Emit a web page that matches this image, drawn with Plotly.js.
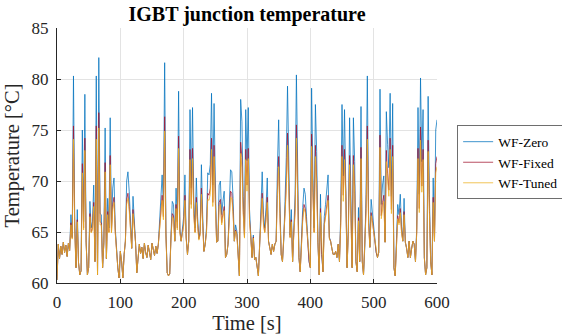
<!DOCTYPE html>
<html>
<head>
<meta charset="utf-8">
<script src="https://cdn.plot.ly/plotly-3.0.1.min.js"></script>
<style>html,body{margin:0;padding:0;background:#fff;}#chart{width:562px;height:336px;}</style>
</head>
<body>
<div id="chart"></div>
<script>
// Sampling of the time axis (s)
const timeStart = 0;
const timeStep = 2;

const seriesNames = ["WF-Zero", "WF-Fixed", "WF-Tuned"];

const zero = [
60.3, 63.8, 62.4, 63.6, 62.8, 64.0, 63.0, 63.7, 62.6, 63.9,
63.2, 66.7, 64.5, 80.3, 66.0, 61.5, 67.2, 62.0, 60.8, 61.2,
75.0, 66.0, 78.5, 64.0, 60.8, 61.5, 68.0, 65.4, 66.0, 69.6,
62.1, 80.3, 60.8, 82.1, 66.8, 66.7, 61.5, 64.0, 75.2, 62.4,
68.3, 65.4, 76.2, 65.4, 69.3, 70.3, 65.4, 62.8, 61.5, 60.5,
63.1, 62.1, 60.5, 62.8, 64.1, 70.0, 70.9, 69.0, 65.4, 63.4,
68.5, 66.5, 64.0, 61.0, 62.6, 63.8, 62.9, 63.5, 62.4, 63.9,
63.0, 62.5, 63.7, 63.1, 62.3, 63.9, 63.2, 62.7, 63.6, 62.9,
63.8, 66.0, 68.5, 70.6, 67.5, 81.6, 65.0, 61.0, 60.7, 60.9,
64.7, 68.0, 67.7, 64.1, 69.3, 66.0, 78.8, 65.4, 64.1, 65.1,
66.5, 70.6, 64.5, 62.8, 64.1, 77.0, 69.3, 77.2, 68.0, 65.4,
70.3, 66.5, 64.4, 65.1, 71.6, 66.7, 63.1, 63.8, 65.4, 70.8,
70.6, 71.6, 78.6, 69.6, 77.6, 70.0, 64.0, 64.1, 69.6, 70.0,
66.7, 68.0, 69.0, 62.5, 62.8, 63.8, 68.5, 71.1, 70.9, 68.3,
64.1, 65.7, 65.1, 62.1, 60.7, 78.0, 75.8, 68.5, 64.7, 77.0,
72.0, 77.2, 67.2, 64.7, 62.5, 64.7, 62.3, 62.5, 61.5, 60.7,
63.8, 67.0, 70.9, 66.7, 65.4, 67.4, 70.3, 64.1, 63.4, 62.8,
63.8, 63.1, 63.8, 64.1, 71.3, 76.0, 68.0, 62.8, 62.1, 64.1,
68.0, 72.3, 79.3, 71.9, 64.7, 67.2, 62.1, 65.4, 68.7, 80.4,
68.0, 62.5, 61.1, 64.7, 67.4, 69.3, 68.7, 66.5, 64.1, 62.1,
61.5, 79.1, 71.0, 65.4, 77.5, 72.9, 64.0, 60.8, 68.7, 62.8,
61.1, 66.5, 67.7, 69.0, 70.6, 64.5, 64.1, 63.4, 62.8, 62.8,
63.1, 62.5, 63.8, 62.1, 66.7, 77.5, 70.5, 77.0, 70.9, 61.5,
65.4, 76.2, 68.7, 61.5, 76.2, 71.9, 62.1, 61.1, 67.4, 62.1,
77.3, 62.1, 60.8, 63.5, 68.7, 80.3, 66.7, 63.5, 68.2, 67.0,
65.4, 64.0, 63.0, 62.5, 63.0, 79.0, 67.7, 69.6, 70.5, 64.0,
76.8, 73.6, 71.3, 78.6, 68.5, 77.6, 61.5, 60.7, 63.5, 67.7,
66.7, 68.7, 65.5, 64.1, 68.3, 64.0, 63.4, 62.5, 64.1, 62.5,
63.4, 64.1, 63.8, 62.1, 65.4, 77.2, 68.7, 80.1, 71.9, 77.0,
62.5, 60.8, 61.5, 78.3, 68.7, 62.1, 60.8, 70.3, 64.1, 75.0,
76.0
];

const fixed = [
60.3, 63.8, 62.4, 63.6, 62.8, 64.0, 63.0, 63.7, 62.6, 63.9,
63.2, 65.9, 64.4, 75.4, 65.4, 61.5, 66.2, 62.0, 60.8, 61.2,
71.7, 65.4, 74.2, 64.0, 60.8, 61.5, 66.8, 65.0, 65.4, 67.9,
62.1, 75.4, 60.8, 76.7, 66.0, 65.9, 61.5, 64.0, 71.8, 62.4,
67.0, 65.0, 72.5, 65.0, 67.7, 68.4, 65.0, 62.8, 61.5, 60.5,
63.1, 62.1, 60.5, 62.8, 64.1, 68.2, 68.8, 67.5, 65.0, 63.4,
67.2, 65.8, 64.0, 61.0, 62.6, 63.8, 62.9, 63.5, 62.4, 63.9,
63.0, 62.5, 63.7, 63.1, 62.3, 63.9, 63.2, 62.7, 63.6, 62.9,
63.8, 65.4, 67.2, 68.6, 66.5, 76.3, 64.7, 61.0, 60.7, 60.9,
64.5, 66.8, 66.6, 64.1, 67.7, 65.4, 74.4, 65.0, 64.1, 64.8,
65.8, 68.6, 64.4, 62.8, 64.1, 73.1, 67.7, 73.2, 66.8, 65.0,
68.4, 65.8, 64.3, 64.8, 69.3, 65.9, 63.1, 63.8, 65.0, 68.8,
68.6, 69.3, 74.2, 67.9, 73.5, 68.2, 64.0, 64.1, 67.9, 68.2,
65.9, 66.8, 67.5, 62.5, 62.8, 63.8, 67.2, 69.0, 68.8, 67.0,
64.1, 65.2, 64.8, 62.1, 60.7, 73.8, 72.3, 67.2, 64.5, 73.1,
69.6, 73.2, 66.2, 64.5, 62.5, 64.5, 62.3, 62.5, 61.5, 60.7,
63.8, 66.1, 68.8, 65.9, 65.0, 66.4, 68.4, 64.1, 63.4, 62.8,
63.8, 63.1, 63.8, 64.1, 69.1, 72.4, 66.8, 62.8, 62.1, 64.1,
66.8, 69.8, 74.7, 69.5, 64.5, 66.2, 62.1, 65.0, 67.3, 75.5,
66.8, 62.5, 61.1, 64.5, 66.4, 67.7, 67.3, 65.8, 64.1, 62.1,
61.5, 74.6, 68.9, 65.0, 73.5, 70.2, 64.0, 60.8, 67.3, 62.8,
61.1, 65.8, 66.6, 67.5, 68.6, 64.4, 64.1, 63.4, 62.8, 62.8,
63.1, 62.5, 63.8, 62.1, 65.9, 73.5, 68.6, 73.1, 68.8, 61.5,
65.0, 72.5, 67.3, 61.5, 72.5, 69.5, 62.1, 61.1, 66.4, 62.1,
73.3, 62.1, 60.8, 63.5, 67.3, 75.4, 65.9, 63.5, 66.9, 66.1,
65.0, 64.0, 63.0, 62.5, 63.0, 74.5, 66.6, 67.9, 68.6, 64.0,
73.0, 70.7, 69.1, 74.2, 67.2, 73.5, 61.5, 60.7, 63.5, 66.6,
65.9, 67.3, 65.1, 64.1, 67.0, 64.0, 63.4, 62.5, 64.1, 62.5,
63.4, 64.1, 63.8, 62.1, 65.0, 73.2, 67.3, 75.3, 69.5, 73.1,
62.5, 60.8, 61.5, 74.0, 67.3, 62.1, 60.8, 68.4, 64.1, 71.7,
72.4
];

const tuned = [
60.3, 63.8, 62.4, 63.6, 62.8, 64.0, 63.0, 63.7, 62.6, 63.9,
63.2, 65.7, 64.3, 74.1, 65.2, 61.5, 66.0, 62.0, 60.8, 61.2,
70.8, 65.2, 73.0, 64.0, 60.8, 61.5, 66.5, 64.9, 65.2, 67.5,
62.1, 74.1, 60.8, 75.2, 65.7, 65.7, 61.5, 64.0, 70.9, 62.4,
66.7, 64.9, 71.6, 64.9, 67.3, 67.9, 64.9, 62.8, 61.5, 60.5,
63.1, 62.1, 60.5, 62.8, 64.1, 67.7, 68.3, 67.1, 64.9, 63.4,
66.8, 65.6, 64.0, 61.0, 62.6, 63.8, 62.9, 63.5, 62.4, 63.9,
63.0, 62.5, 63.7, 63.1, 62.3, 63.9, 63.2, 62.7, 63.6, 62.9,
63.8, 65.2, 66.8, 68.1, 66.2, 74.9, 64.6, 61.0, 60.7, 60.9,
64.4, 66.5, 66.3, 64.1, 67.3, 65.2, 73.2, 64.9, 64.1, 64.7,
65.6, 68.1, 64.3, 62.8, 64.1, 72.1, 67.3, 72.2, 66.5, 64.9,
67.9, 65.6, 64.2, 64.7, 68.7, 65.7, 63.1, 63.8, 64.9, 68.2,
68.1, 68.7, 73.1, 67.5, 72.4, 67.7, 64.0, 64.1, 67.5, 67.7,
65.7, 66.5, 67.1, 62.5, 62.8, 63.8, 66.8, 68.4, 68.3, 66.7,
64.1, 65.1, 64.7, 62.1, 60.7, 72.7, 71.3, 66.8, 64.4, 72.1,
69.0, 72.2, 66.0, 64.4, 62.5, 64.4, 62.3, 62.5, 61.5, 60.7,
63.8, 65.9, 68.3, 65.7, 64.9, 66.1, 67.9, 64.1, 63.4, 62.8,
63.8, 63.1, 63.8, 64.1, 68.5, 71.4, 66.5, 62.8, 62.1, 64.1,
66.5, 69.1, 73.5, 68.9, 64.4, 66.0, 62.1, 64.9, 66.9, 74.2,
66.5, 62.5, 61.1, 64.4, 66.1, 67.3, 66.9, 65.6, 64.1, 62.1,
61.5, 73.4, 68.3, 64.9, 72.4, 69.5, 64.0, 60.8, 66.9, 62.8,
61.1, 65.6, 66.3, 67.1, 68.1, 64.3, 64.1, 63.4, 62.8, 62.8,
63.1, 62.5, 63.8, 62.1, 65.7, 72.4, 68.0, 72.1, 68.3, 61.5,
64.9, 71.6, 66.9, 61.5, 71.6, 68.9, 62.1, 61.1, 66.1, 62.1,
72.2, 62.1, 60.8, 63.5, 66.9, 74.1, 65.7, 63.5, 66.6, 65.9,
64.9, 64.0, 63.0, 62.5, 63.0, 73.3, 66.3, 67.5, 68.0, 64.0,
71.9, 70.0, 68.5, 73.1, 66.8, 72.4, 61.5, 60.7, 63.5, 66.3,
65.7, 66.9, 64.9, 64.1, 66.7, 64.0, 63.4, 62.5, 64.1, 62.5,
63.4, 64.1, 63.8, 62.1, 64.9, 72.2, 66.9, 74.0, 68.9, 72.1,
62.5, 60.8, 61.5, 72.9, 66.9, 62.1, 60.8, 67.9, 64.1, 70.8,
71.4
];

const FONT = '"Liberation Serif", "Times New Roman", Times, serif';
const colors = ['#0072BD', '#A2142F', '#EDB120'];
const seriesData = [zero, fixed, tuned];

const traces = seriesData.map((y, i) => ({
  type: 'scatter',
  mode: 'lines',
  name: seriesNames[i],
  x0: timeStart,
  dx: timeStep,
  y: y,
  line: {color: colors[i], width: 0.75},
  hoverinfo: 'skip'
}));

const axisCommon = {
  showline: true,
  linecolor: '#262626',
  linewidth: 1,
  mirror: false,
  ticks: 'inside',
  ticklen: 4,
  tickwidth: 1,
  tickcolor: '#262626',
  showgrid: true,
  gridcolor: '#e3e3e3',
  gridwidth: 1,
  zeroline: false,
  automargin: false,
  tickfont: {family: FONT, size: 17, color: '#262626'}
};

const layout = {
  width: 562,
  height: 336,
  margin: {l: 57, r: 125, t: 28, b: 53, pad: 0, autoexpand: false},
  paper_bgcolor: '#ffffff',
  plot_bgcolor: '#ffffff',
  font: {family: FONT, color: '#262626'},
  title: {
    text: '<b>IGBT junction temperature</b>',
    font: {family: FONT, size: 20, color: '#000000'},
    x: 0.5, xref: 'paper', xanchor: 'center',
    y: 0.958, yref: 'container', yanchor: 'middle'
  },
  xaxis: Object.assign({}, axisCommon, {
    range: [0, 600],
    tick0: 0, dtick: 100,
    ticklabelstandoff: 4,
    title: {text: 'Time [s]', font: {family: FONT, size: 20.5, color: '#262626'}, standoff: 2}
  }),
  yaxis: Object.assign({}, axisCommon, {
    range: [60, 85],
    tick0: 60, dtick: 5,
    ticklabelstandoff: 4,
    title: {text: 'Temperature [°C]', font: {family: FONT, size: 20.5, color: '#262626'}, standoff: 6}
  }),
  showlegend: true,
  legend: {
    x: 1.053, xanchor: 'left',
    y: 0.618, yanchor: 'top',
    bgcolor: '#ffffff',
    bordercolor: '#6e6e6e',
    borderwidth: 1,
    font: {family: FONT, size: 13.5, color: '#000000'},
    itemwidth: 30,
    tracegroupgap: 0
  }
};

Plotly.newPlot('chart', traces, layout, {displayModeBar: false, staticPlot: true});
</script>
</body>
</html>
